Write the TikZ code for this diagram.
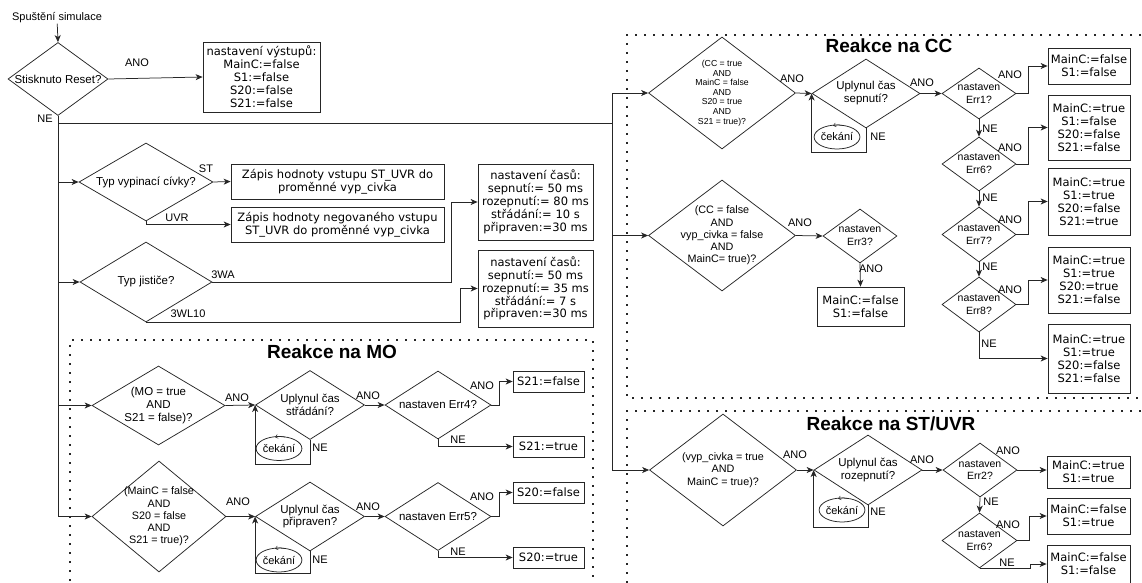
\documentclass[tikz,border=0pt]{standalone}
\usepackage{fontspec}
\setmainfont{Liberation Sans}
\newfontfamily\boxfont{DejaVu Sans}
\usetikzlibrary{shapes.geometric,arrows.meta}

\begin{document}
\begin{tikzpicture}[x=1pt, y=-1pt, line width=0.75pt, draw=black!85,
    dec/.style={diamond, draw=black!85, inner sep=0pt},
    txt/.style={align=center, inner sep=0pt, font=\fontsize{11.5}{13}\selectfont},
    txtmid/.style={align=center, inner sep=0pt, font=\fontsize{10.8}{12.2}\selectfont},
    txtsm/.style={align=center, inner sep=0pt, font=\fontsize{8.7}{9.6}\selectfont},
    txterr/.style={align=center, inner sep=0pt, font=\fontsize{10.5}{12.7}\selectfont},
    box/.style={draw=black!85, align=center, inner sep=1pt, font=\boxfont\fontsize{11.5}{12.9}\selectfont},
    lab/.style={inner sep=0pt, font=\fontsize{11}{13}\selectfont},
    wait/.style={ellipse, draw=black!85, minimum width=43, minimum height=24, inner sep=0pt, font=\fontsize{11}{12}\selectfont},
    arr/.style={-{Stealth[length=7pt,width=6pt,inset=2pt]}},
    spin/.style={-{Straight Barb[length=2.5pt,width=4pt]}, line width=0.5pt},
    panel/.style={line width=1.6pt, dash pattern=on 1.6pt off 7.4pt},
    paneltitle/.style={font=\bfseries\fontsize{19}{22}\selectfont}
]
    \useasboundingbox (0,0) rectangle (1142,583);

    % Start and reset
    \node[lab] (start) at (57,18) {Spuštění simulace};
    \node[dec, minimum width=100, minimum height=73, label={[txt]center:{Stisknuto Reset?}}] (reset) at (58,79) {};
    \node[box, minimum width=117, minimum height=70] (out0) at (261.5,77) {nastavení výstupů:\\MainC:=false\\S1:=false\\S20:=false\\S21:=false};
    \draw[arr] (start) -- (reset.north);
    \draw[arr] (reset.east) -- (out0.west);
    \node[lab] (l-reset-ano) at (137,63) {ANO};
    \node[lab] (l-reset-ne) at (45,119) {NE};

    % Configuration
    \node[dec, minimum width=134, minimum height=78, label={[txt]center:{Typ vypinací cívky?}}] (typvyp) at (146,182) {};
    \node[box, minimum width=213, minimum height=35] (zap1) at (337.5,181.5) {Zápis hodnoty vstupu ST\_UVR do\\proměnné vyp\_civka};
    \node[box, minimum width=213, minimum height=35] (zap2) at (337.5,224.5) {Zápis hodnoty negovaného vstupu\\ST\_UVR do proměnné vyp\_civka};
    \node[dec, minimum width=132, minimum height=80, label={[txt]center:{Typ jističe?}}] (typjis) at (146,282) {};
    \node[box, minimum width=115, minimum height=76] (cas1) at (535.5,202) {nastavení časů:\\sepnutí:= 50 ms\\rozepnutí:= 80 ms\\střádání:= 10 s\\připraven:=30 ms};
    \node[box, minimum width=115, minimum height=77] (cas2) at (535.5,288.5) {nastavení časů:\\sepnutí:= 50 ms\\rozepnutí:= 35 ms\\střádání:= 7 s\\připraven:=30 ms};
    \draw[arr] (typvyp.east) -- (zap1.west);
    \draw[arr] (typvyp.south) |- (zap2.west);
    \draw[arr] (typjis.east) -- ++(239,0) |- (cas1.west);
    \draw[arr] (typjis.south) -- ++(314,0) |- (cas2.west);
    \node[lab] (l-st) at (206,169) {ST};
    \node[lab] (l-uvr) at (177,218) {UVR};
    \node[lab] (l-3wa) at (223,275) {3WA};
    \node[lab] (l-3wl) at (188,314) {3WL10};

    % Reakce na MO
    \draw[panel] (70,590) -- (70,340) -- (593,340) -- (593,590);
    \node[paneltitle] (t-mo) at (332,352) {Reakce na MO};
    \node[dec, minimum width=133, minimum height=79, label={[txt]center:{(MO = true\\AND\\S21 = false)?}}] (mo1) at (158.5,405.5) {};
    \node[dec, minimum width=109, minimum height=69, label={[txt]center:{Uplynul čas\\střádání?}}] (mo1w) at (310,405) {};
    \node[dec, minimum width=106, minimum height=68, label={[txt]center:{nastaven Err4?}}] (err4) at (438,405) {};
    \node[box, minimum width=71, minimum height=21] (s21f) at (548.5,381.5) {S21:=false};
    \node[box, minimum width=71, minimum height=21] (s21t) at (548.5,446.5) {S21:=true};
    \node[wait] (w-mo1) at (279,448.5) {čekání};
    \draw[arr] (mo1.east) -- (mo1w.west);
    \draw[arr] (mo1w.south) -- ++(0,24) -| (mo1w.west);
    \draw[arr] (mo1w.east) -- (err4.west);
    \draw[arr] (err4.east) -- ++(8,0) |- (s21f.west);
    \draw[arr] (err4.south) |- (s21t.west);
    \node[lab] (l-mo1-ano) at (237,398) {ANO};
    \node[lab] (l-mo1w-ne) at (320,448) {NE};
    \node[lab] (l-mo1w-ano) at (368,396) {ANO};
    \node[lab] (l-err4-ano) at (482,386) {ANO};
    \node[lab] (l-err4-ne) at (458,440) {NE};

    \node[dec, minimum width=134, minimum height=111, label={[txtmid]center:{(MainC = false\\AND\\S20 = false\\AND\\S21 = true)?}}] (mo2) at (159,516.5) {};
    \node[dec, minimum width=109, minimum height=69, label={[txt]center:{Uplynul čas\\připraven?}}] (mo2w) at (310,516.5) {};
    \node[dec, minimum width=106, minimum height=68, label={[txt]center:{nastaven Err5?}}] (err5) at (438,516.5) {};
    \node[box, minimum width=71, minimum height=21] (s20f) at (548.5,492.5) {S20:=false};
    \node[box, minimum width=71, minimum height=21] (s20t) at (548.5,557.5) {S20:=true};
    \node[wait] (w-mo2) at (279,560) {čekání};
    \draw[arr] (mo2.east) -- (mo2w.west);
    \draw[arr] (mo2w.south) -- ++(0,22) -| (mo2w.west);
    \draw[arr] (mo2w.east) -- (err5.west);
    \draw[arr] (err5.east) -- ++(8,0) |- (s20f.west);
    \draw[arr] (err5.south) |- (s20t.west);
    \node[lab] (l-mo2-ano) at (238,502) {ANO};
    \node[lab] (l-mo2w-ne) at (320,560) {NE};
    \node[lab] (l-mo2w-ano) at (368,507) {ANO};
    \node[lab] (l-err5-ano) at (482,497) {ANO};
    \node[lab] (l-err5-ne) at (458,552) {NE};

    % Reakce na CC
    \draw[panel] (1150,35) -- (627,35) -- (627,398) -- (1150,398);
    \node[paneltitle] (t-cc) at (889,46) {Reakce na CC};
    \node[dec, minimum width=147, minimum height=112, label={[txtsm]center:{(CC = true\\AND\\MainC = false\\AND\\S20 = true\\AND\\S21 = true)?}}] (cc1) at (722,93) {};
    \node[dec, minimum width=108, minimum height=69, label={[txt]center:{Uplynul čas\\sepnutí?}}] (cc1w) at (866,93.5) {};
    \node[wait] (w-cc1) at (837,137) {čekání};
    \node[dec, minimum width=74, minimum height=51, label={[txterr]center:{nastaven\\Err1?}}] (err1) at (979,93.5) {};
    \node[dec, minimum width=74, minimum height=54, label={[txterr]center:{nastaven\\Err6?}}] (err6) at (979,164) {};
    \node[dec, minimum width=74, minimum height=55, label={[txterr]center:{nastaven\\Err7?}}] (err7) at (979,234.5) {};
    \node[dec, minimum width=74, minimum height=55, label={[txterr]center:{nastaven\\Err8?}}] (err8) at (979,304.5) {};
    \node[box, minimum width=82, minimum height=36] (cc-b1) at (1089,66) {MainC:=false\\S1:=false};
    \node[box, minimum width=82, minimum height=65] (cc-b2) at (1089,127.5) {MainC:=true\\S1:=false\\S20:=false\\S21:=false};
    \node[box, minimum width=82, minimum height=67] (cc-b3) at (1089,201.5) {MainC:=true\\S1:=true\\S20:=false\\S21:=true};
    \node[box, minimum width=82, minimum height=66] (cc-b4) at (1089,280) {MainC:=true\\S1:=true\\S20:=true\\S21:=false};
    \node[box, minimum width=82, minimum height=69] (cc-b5) at (1089,358.5) {MainC:=true\\S1:=true\\S20:=false\\S21:=false};
    \draw[arr] (cc1.east) -- (cc1w.west);
    \draw[arr] (cc1w.south) -- ++(0,24) -| (cc1w.west);
    \draw[arr] (cc1w.east) -- (err1.west);
    \draw[arr] (err1.south) -- (err6.north);
    \draw[arr] (err6.south) -- (err7.north);
    \draw[arr] (err7.south) -- (err8.north);
    \draw[arr] (err1.east) -- ++(12,0) |- (cc-b1.west);
    \draw[arr] (err6.east) -- ++(12,0) |- (cc-b2.west);
    \draw[arr] (err7.east) -- ++(12,0) |- (cc-b3.west);
    \draw[arr] (err8.east) -- ++(12,0) |- (cc-b4.west);
    \draw[arr] (err8.south) |- (cc-b5.west);
    \node[lab] (l-cc1-ano) at (792,79) {ANO};
    \node[lab] (l-cc1w-ne) at (878,137) {NE};
    \node[lab] (l-cc1w-ano) at (922,83) {ANO};
    \node[lab] (l-err1-ano) at (1010,75) {ANO};
    \node[lab] (l-err1-ne) at (990,129) {NE};
    \node[lab] (l-err6-ano) at (1010,148) {ANO};
    \node[lab] (l-err6-ne) at (990,198) {NE};
    \node[lab] (l-err7-ano) at (1010,220) {ANO};
    \node[lab] (l-err7-ne) at (990,267) {NE};
    \node[lab] (l-err8-ano) at (1010,290) {ANO};
    \node[lab] (l-err8-ne) at (989,344) {NE};

    \node[dec, minimum width=147, minimum height=111, label={[txtmid]center:{(CC = false\\AND\\vyp\_civka = false\\AND\\MainC= true)?}}] (cc2) at (722,235.5) {};
    \node[dec, minimum width=74, minimum height=54, label={[txterr]center:{nastaven\\Err3?}}] (err3) at (860,236) {};
    \node[box, minimum width=87, minimum height=39] (cc3-b) at (860.5,306.5) {MainC:=false\\S1:=false};
    \draw[arr] (cc2.east) -- (err3.west);
    \draw[arr] (err3.south) -- (cc3-b.north);
    \node[lab] (l-cc2-ano) at (800,223) {ANO};
    \node[lab] (l-err3-ano) at (871,269) {ANO};

    % Reakce na ST/UVR
    \draw[panel] (1150,411) -- (627,411) -- (627,590);
    \node[paneltitle] (t-st) at (891,424) {Reakce na ST/UVR};
    \node[dec, minimum width=147, minimum height=112, label={[txtmid]center:{(vyp\_civka = true\\AND\\MainC = true)?}}] (st1) at (723,470) {};
    \node[dec, minimum width=108, minimum height=70, label={[txt]center:{Uplynul čas\\rozepnutí?}}] (st1w) at (868,470) {};
    \node[wait] (w-st1) at (842,510) {čekání};
    \node[dec, minimum width=74, minimum height=54, label={[txterr]center:{nastaven\\Err2?}}] (err2) at (980,470) {};
    \node[dec, minimum width=75, minimum height=55, label={[txterr]center:{nastaven\\Err6?}}] (err6b) at (979.5,540.5) {};
    \node[box, minimum width=83, minimum height=32] (st-b1) at (1088.5,472) {MainC:=true\\S1:=true};
    \node[box, minimum width=83, minimum height=36] (st-b2) at (1088.5,516) {MainC:=false\\S1:=true};
    \node[box, minimum width=83, minimum height=38] (st-b3) at (1088.5,564) {MainC:=false\\S1:=false};
    \draw[arr] (st1.east) -- (st1w.west);
    \draw[arr] (st1w.south) -- ++(0,22) -| (st1w.west);
    \draw[arr] (st1w.east) -- (err2.west);
    \draw[arr] (err2.east) -- (err2.east -| st-b1.west);
    \draw[arr] (err2.south) -- (err6b.north);
    \draw[arr] (err6b.east) -- ++(12,0) |- (st-b2.west);
    \draw[arr] (err6b.south) -- ++(51,0) |- (st-b3.west);
    \node[lab] (l-st1-ano) at (795,455) {ANO};
    \node[lab] (l-st1w-ne) at (878,512) {NE};
    \node[lab] (l-st1w-ano) at (922,460) {ANO};
    \node[lab] (l-err2-ano) at (1008,451) {ANO};
    \node[lab] (l-err2-ne) at (991,502) {NE};
    \node[lab] (l-err6b-ano) at (1008,525) {ANO};
    \node[lab] (l-err6b-ne) at (1007,563) {NE};

    % Main trunk
    \foreach \n in {typvyp,typjis,mo1,mo2} {
        \draw[arr] (reset.south) |- (\n.west);
    }
    \coordinate (trk) at (612,123);
    \draw (reset.south |- trk) -- (trk);
    \foreach \n in {cc1,cc2,st1} {
        \draw[arr] (trk) |- (\n.west);
    }

    % Waiting marks
    \foreach \w in {w-mo1,w-mo2,w-cc1,w-st1} {
        \draw[spin] ([shift={(6,1)}]\w.north) to[bend right=15] ([shift={(-4,1)}]\w.north);
    }
\end{tikzpicture}
\end{document}
